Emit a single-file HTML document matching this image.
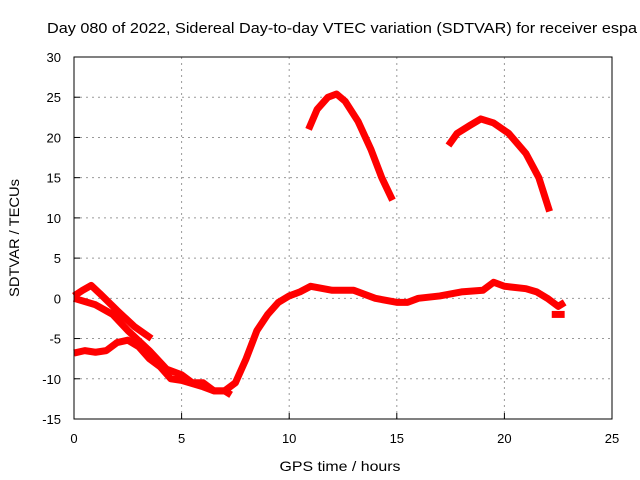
<!DOCTYPE html>
<html><head><meta charset="utf-8"><style>
body{margin:0;background:#fff}
svg{display:block;font-family:"Liberation Sans",sans-serif;font-size:13px}
</style></head><body>
<svg id="c" width="640" height="480">
<text x="47" y="33" font-size="15" textLength="590" lengthAdjust="spacingAndGlyphs">Day 080 of 2022, Sidereal Day-to-day VTEC variation (SDTVAR) for receiver espa</text>
<text x="340" y="471" text-anchor="middle" font-size="14" textLength="121" lengthAdjust="spacingAndGlyphs">GPS time / hours</text>
<text transform="translate(19,238) rotate(-90)" text-anchor="middle" font-size="14" textLength="118" lengthAdjust="spacingAndGlyphs">SDTVAR / TECUs</text>
<g id="grid"></g><g id="marks"></g>
<rect x="74" y="57" width="538" height="362" fill="none" stroke="#000" stroke-width="1"/>
</svg>
<script>
const xTicks=[0,5,10,15,20,25];
const yTicks=[-15,-10,-5,0,5,10,15,20,25,30];
const seriesUpper=[[0,0.3],[0.4,1],[0.8,1.6],[1.2,0.6],[2,-1.5],[2.8,-3.5],[3.6,-5]];
const seriesMain=[[0,0],[1,-0.8],[1.8,-2],[2.5,-4],[3.5,-6.5],[4.3,-8.8],[5,-9.5],[5.5,-10.5],[6,-10.5],[6.5,-11.5],[7,-11.5],[7.5,-10.5],[8,-7.5],[8.5,-4],[9,-2],[9.5,-0.5],[10,0.3],[10.5,0.8],[11,1.5],[12,1],[13,1],[14,0],[15,-0.5],[15.5,-0.5],[16,0],[17,0.3],[18,0.8],[19,1],[19.5,2],[20,1.5],[21,1.2],[21.5,0.8],[22,0],[22.5,-1],[22.8,-0.5]];
const seriesLower=[[0,-6.8],[0.5,-6.5],[1,-6.7],[1.5,-6.5],[2,-5.5],[2.5,-5.2],[3,-6],[3.5,-7.5],[4,-8.5],[4.5,-10],[5,-10.2],[6,-11],[6.5,-11.5],[7,-11.5],[7.3,-12]];
const seriesArc1=[[10.9,21],[11.3,23.5],[11.8,25],[12.2,25.4],[12.6,24.5],[13.2,22],[13.8,18.5],[14.3,15],[14.8,12.2]];
const seriesArc2=[[17.4,19],[17.8,20.5],[18.4,21.5],[18.9,22.3],[19.5,21.8],[20.2,20.5],[21,18],[21.6,15],[22.1,10.8]];
const seriesTail=[[22.2,-2],[22.8,-2]];
const X=v=>74+v*538/25, Y=v=>419-(v+15)*362/45;
const NS="http://www.w3.org/2000/svg";
const g=document.getElementById('grid'), m=document.getElementById('marks');
function el(t,a,p){const e=document.createElementNS(NS,t);for(const k in a)e.setAttribute(k,a[k]);p.appendChild(e);return e;}
xTicks.forEach(t=>{
 if(t>0&&t<25){const l=el('line',{x1:X(t),x2:X(t),y1:57,y2:419,stroke:'#999','stroke-dasharray':'2,4'},g);
 
 }
 const tk=el('line',{x1:X(t),x2:X(t),y1:419,y2:413,stroke:'#000'},g);
 
 
 const tx=el('text',{x:X(t),y:443,'text-anchor':'middle'},g);tx.textContent=t;
 
 
});
yTicks.forEach(t=>{
 if(t>-15&&t<30){const l=el('line',{x1:74,x2:612,y1:Y(t),y2:Y(t),stroke:'#999','stroke-dasharray':'2,4'},g);
 
 }
 const tk=el('line',{x1:74,x2:80,y1:Y(t),y2:Y(t),stroke:'#000'},g);
 
 
 const tx=el('text',{x:61,y:Y(t)+5,'text-anchor':'end'},g);tx.textContent=t;
 
 
});
[['series-upper',seriesUpper],['series-main',seriesMain],['series-lower',seriesLower],['series-arc-1',seriesArc1],['series-arc-2',seriesArc2],['series-tail',seriesTail]].forEach(([n,d])=>{
 const p=el('polyline',{points:d.map(q=>X(q[0])+','+Y(q[1])).join(' '),fill:'none',stroke:'#f00','stroke-width':7,'stroke-linejoin':'round'},m);
 
 
});
</script>
</body></html>
